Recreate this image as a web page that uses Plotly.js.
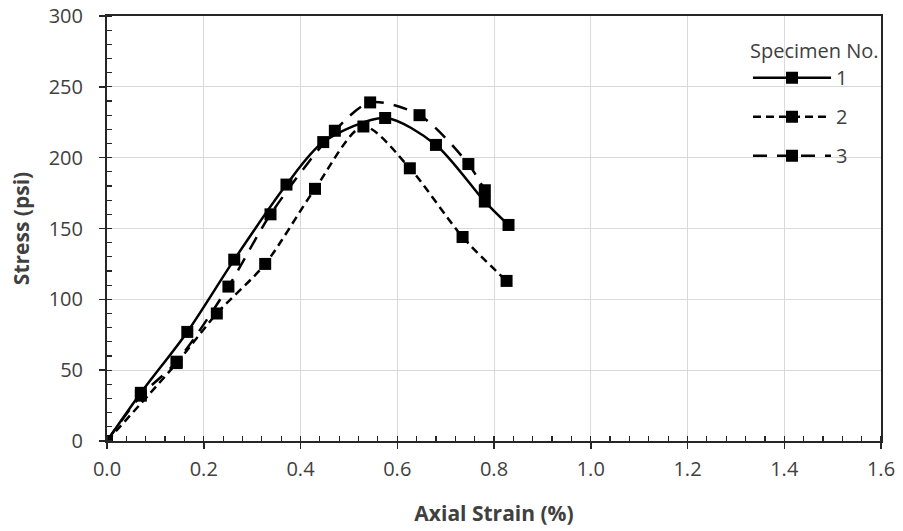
<!DOCTYPE html>
<html>
<head>
<meta charset="utf-8">
<script src="https://cdn.plot.ly/plotly-3.0.1.min.js"></script>
<style>html,body{margin:0;padding:0;background:#fff;}#chart{width:903px;height:531px;}</style>
</head>
<body>
<div id="chart"></div>
<script>
// Specimen 1 (solid)
const strain1 = [0, 0.07, 0.166, 0.263, 0.371, 0.447, 0.575, 0.680, 0.781, 0.830];
const stress1 = [0, 34, 77, 128, 181, 211, 228, 209, 169, 152.5];
// Specimen 2 (short dash)
const strain2 = [0, 0.144, 0.227, 0.327, 0.430, 0.530, 0.626, 0.735, 0.826];
const stress2 = [0, 55, 90, 125, 178, 222, 192.5, 144, 113];
// Specimen 3 (long dash)
const strain3 = [0, 0.07, 0.144, 0.251, 0.338, 0.471, 0.544, 0.646, 0.747, 0.781];
const stress3 = [0, 32, 56, 109, 160, 219, 239, 230, 195.5, 177];
const seriesNames = ["1", "2", "3"];

const mk = {symbol: "square", size: 12, color: "#000"};
const traces = [
  {x: strain1, y: stress1, name: seriesNames[0], legendgroup: "g1", mode: "lines+markers",
   line: {color: "#000", width: 2.5, shape: "spline", smoothing: 0.8, dash: "solid"}, marker: mk},
  {x: strain2, y: stress2, name: seriesNames[1], legendgroup: "g2", mode: "lines+markers",
   line: {color: "#000", width: 2.5, shape: "spline", smoothing: 0.8, dash: "8px,5px"}, marker: mk},
  {x: strain3, y: stress3, name: seriesNames[2], legendgroup: "g3", mode: "lines+markers",
   line: {color: "#000", width: 2.5, shape: "spline", smoothing: 0.8, dash: "14px,10px"}, marker: mk}
];

const fam = "'Open Sans', 'Noto Sans', sans-serif";
const tickFont = {family: fam, size: 20, color: "#404040"};
const titleFont = {family: fam, size: 21, color: "#404040", weight: "bold"};
const layout = {
  width: 903, height: 531,
  margin: {l: 107, r: 22, t: 16, b: 90},
  paper_bgcolor: "#fff", plot_bgcolor: "#fff",
  font: tickFont,
  showlegend: true,
  legend: {
    x: 1.0, xanchor: "right", y: 0.962, yanchor: "top",
    bgcolor: "rgba(0,0,0,0)",
    title: {text: "Specimen No.", side: "top", font: {family: fam, size: 20, color: "#404040"}},
    font: {family: fam, size: 20, color: "#404040"},
    tracegroupgap: 10, itemwidth: 78
  },
  xaxis: {
    range: [0, 1.6], dtick: 0.2, tickformat: ".1f",
    showgrid: true, gridcolor: "#d9d9d9", gridwidth: 1,
    showline: true, linecolor: "#262626", linewidth: 2, mirror: true,
    ticks: "outside", ticklen: 6, tickcolor: "#262626", tickwidth: 1.5,
    minor: {dtick: 0.04, ticks: "inside", ticklen: 5, tickcolor: "#262626", tickwidth: 1.2, showgrid: false},
    zeroline: false,
    tickfont: tickFont, ticklabelstandoff: 3,
    title: {text: "Axial Strain (%)", standoff: 25, font: titleFont}
  },
  yaxis: {
    range: [0, 300], dtick: 50,
    showgrid: true, gridcolor: "#d9d9d9", gridwidth: 1,
    showline: true, linecolor: "#262626", linewidth: 2, mirror: true,
    ticks: "outside", ticklen: 6, tickcolor: "#262626", tickwidth: 1.5,
    minor: {dtick: 10, ticks: "inside", ticklen: 5, tickcolor: "#262626", tickwidth: 1.2, showgrid: false},
    zeroline: false,
    tickfont: tickFont, ticklabelstandoff: 12,
    title: {text: "Stress (psi)", standoff: 13, font: titleFont}
  }
};
Plotly.newPlot("chart", traces, layout, {displayModeBar: false, staticPlot: true});
</script>
</body>
</html>
